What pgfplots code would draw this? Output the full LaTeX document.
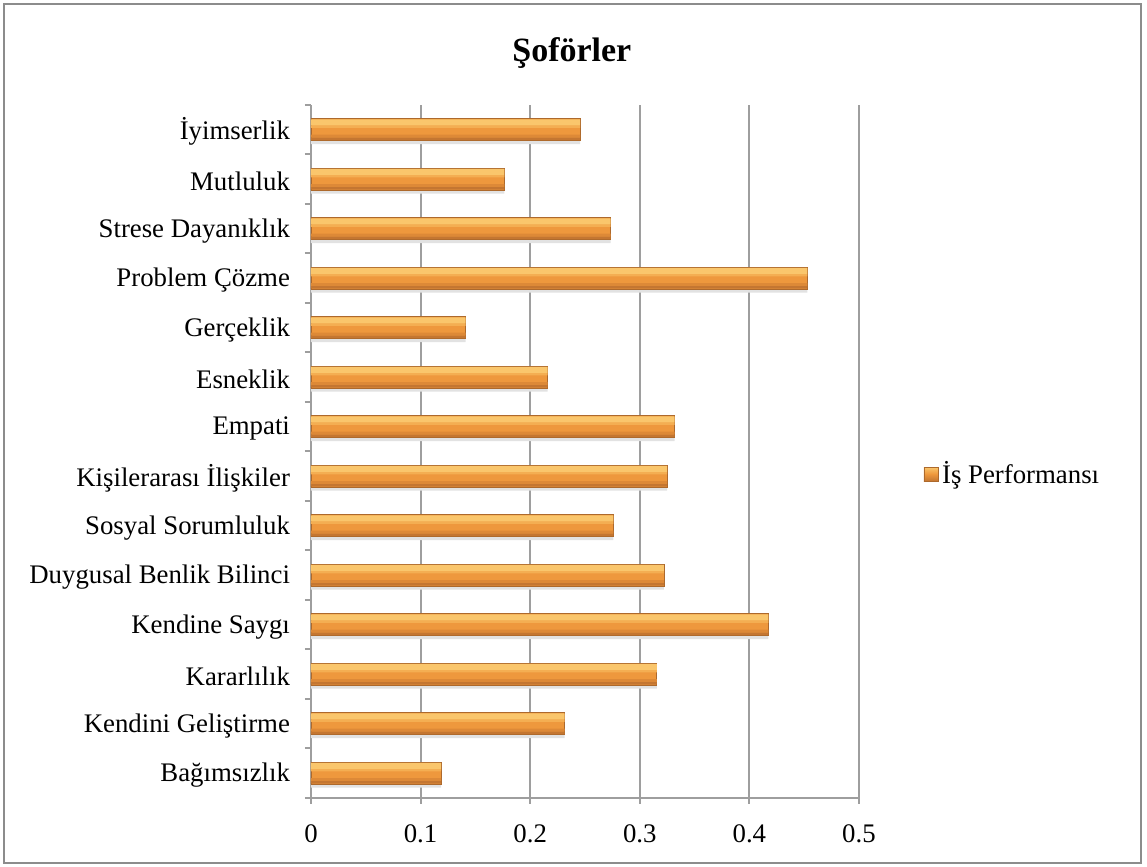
\documentclass[border=0pt]{standalone}
\usepackage{pgfplots}
\pgfplotsset{compat=1.18}
\usepackage{fontspec}
\setmainfont{Liberation Serif}
\definecolor{gridc}{HTML}{9E9E9E}
\definecolor{axisc}{HTML}{8C8C8C}
\definecolor{bartop}{HTML}{FAC66C}
\definecolor{bartrans}{HTML}{F4AE52}
\definecolor{barmid}{HTML}{EE983D}
\definecolor{barlow}{HTML}{DD8937}
\definecolor{barbot}{HTML}{C47631}
\definecolor{baredge}{HTML}{AD692C}
\definecolor{shadowc}{HTML}{E2E2E2}
\pgfplotstableread{
v y
0.1187 0
0.2314 1
0.3156 2
0.4173 3
0.322 4
0.276 5
0.325 6
0.3317 7
0.216 8
0.141 9
0.453 10
0.2735 11
0.1765 12
0.2456 13
}\datatable
\begin{document}
\begin{tikzpicture}
\path[use as bounding box] (-155.5pt,-34.5pt) rectangle (418pt,399pt);
\draw[axisc, line width=0.8pt] (-153.5pt,-32.5pt) rectangle (415pt,397pt);
\begin{axis}[
  at={(0,0)}, anchor=south west,
  scale only axis,
  width=274pt, height=346.5pt,
  xbar, bar width=11pt,
  xmin=0, xmax=0.5,
  ymin=-0.5, ymax=13.5,
  xtick={0,0.1,0.2,0.3,0.4,0.5},
  xticklabels={0,0.1,0.2,0.3,0.4,0.5},
  ytick={0,...,13},
  yticklabels={Bağımsızlık,Kendini Geliştirme,Kararlılık,Kendine Saygı,Duygusal Benlik Bilinci,Sosyal Sorumluluk,Kişilerarası İlişkiler,Empati,Esneklik,Gerçeklik,Problem Çözme,Strese Dayanıklık,Mutluluk,İyimserlik},
  minor ytick={-0.5,0.5,...,13.5},
  major tick length=3pt,
  minor tick length=3pt,
  every major y tick/.append style={draw=none},
  every minor y tick/.append style={draw=gridc, line width=1pt},
  xtick style={draw=gridc, line width=1pt},
  tick align=outside,
  xtick pos=bottom, ytick pos=left,
  axis x line*=bottom, axis y line*=left,
  axis line style={gridc, line width=1pt, -},
  xmajorgrids, grid style={gridc, line width=1pt},
  tick label style={font=\fontsize{13.4}{15}\selectfont},
  yticklabel style={xshift=-4pt, yshift=-1pt},
  xticklabel style={yshift=-7pt},
  title={\bfseries Şoförler},
  title style={font=\fontsize{17}{20}\selectfont, at={(axis description cs:0.476,1.058)}, anchor=center, yshift=0pt},
  legend style={at={(rel axis cs:1.117,0.4675)}, anchor=west, draw=none, fill=none,
    font=\fontsize{13.4}{15}\selectfont, inner sep=0pt},
  legend image code/.code={\shade[top color=bartop, bottom color=barbot, middle color=barmid, draw=baredge, line width=0.3pt] (0pt,-3.5pt) rectangle (7pt,3.5pt);},
  legend cell align=left,
  /pgf/number format/assume math mode=true,
]
\addplot[fill=shadowc, draw=none, bar width=1.8pt, bar shift=-6.3pt, forget plot] table[x=v,y=y] {\datatable};
\addplot[fill=barmid, draw=baredge, line width=0.4pt, bar shift=0pt] table[x=v,y=y] {\datatable};
\addlegendentry{İş Performansı}
\addplot[fill=bartop, draw=none, bar width=3.2pt, bar shift=3.6pt, forget plot] table[x=v,y=y] {\datatable};
\addplot[fill=bartrans, draw=none, bar width=1.2pt, bar shift=1.5pt, forget plot] table[x=v,y=y] {\datatable};
\addplot[fill=barlow, draw=none, bar width=1.6pt, bar shift=-3.2pt, forget plot] table[x=v,y=y] {\datatable};
\addplot[fill=barbot, draw=none, bar width=1.2pt, bar shift=-4.6pt, forget plot] table[x=v,y=y] {\datatable};
\end{axis}
\end{tikzpicture}
\end{document}
